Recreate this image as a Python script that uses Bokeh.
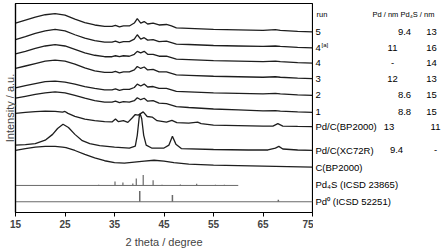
from bokeh.plotting import figure
from bokeh.layouts import row
from bokeh.models import Range1d, FixedTicker
from bokeh.core.properties import value
from bokeh.embed import file_html
from bokeh.resources import INLINE

# ---------------- data (stacked intensities, a.u.) ----------------
two_theta_runs = [15, 17, 19, 21, 23, 25, 27, 29, 31, 33, 34.5, 35.2, 36, 36.8, 38, 39, 39.6,
                  40.3, 41, 41.7, 42.8, 44, 45.5, 46.5, 47.5, 50, 55, 60, 65, 67.5, 68.5, 72, 75]
run_5 = [194, 197, 200, 202.5, 203.7, 202, 198, 194.5, 192, 190.5, 190.5, 191.5, 190, 191, 191, 194, 198.5,
         194, 195.5, 193, 194, 192, 192.5, 191, 189, 188.5, 187.5, 187, 186.5, 187.2, 186.5, 185.5, 185]
run_4a = [177, 180, 183.5, 186, 187.5, 186, 182, 178.5, 176, 174.5, 174.5, 175.5, 174, 175, 175, 177.5, 182,
          177.5, 179, 176.5, 177, 175, 175.5, 174, 172.5, 172, 171, 170.5, 170, 170.5, 170, 169, 168.5]
run_4 = [162.5, 165, 168, 170.5, 172, 170.5, 167, 163.5, 161, 159.5, 159.5, 160.5, 159.5, 160.5, 160, 162, 165,
         163.5, 165, 162, 162, 160, 160, 158.5, 157, 156.5, 155.5, 155, 154.5, 155, 154.5, 153.5, 153]
run_3 = [147.5, 150, 152.5, 155, 156, 155, 152, 148, 145, 143.5, 143.5, 144.5, 143, 144, 144, 146, 149.5,
         147.5, 149, 146, 146.5, 144, 144, 142.5, 141, 140.5, 139.5, 139, 138.5, 139, 138.5, 137.5, 137]
run_2 = [127.5, 130, 132, 134, 134.5, 133.5, 131.5, 129, 127, 125.5, 125.5, 126.5, 125, 126, 126, 128, 131.5,
         129.5, 131.5, 128.5, 129, 127, 127, 125.5, 124, 123.5, 122.5, 122, 121.5, 122, 121.5, 120.5, 120]
run_1 = [117, 119, 121, 122.5, 123.5, 122.5, 120, 117, 114.5, 113, 113, 114, 112.5, 113.5, 113, 114.5, 117.5,
         115.5, 117, 114, 114.5, 112, 111.5, 110, 108.5, 107.5, 106, 105, 104, 104.3, 103.7, 103, 102.5]

two_theta_bp = [15, 17, 19, 21, 23, 24.5, 25, 25.6, 27, 29, 31, 33, 34.5, 35.2, 35.8, 36.8, 37.7, 38.6, 39.2,
                39.8, 40.8, 41.6, 42.6, 43.6, 45.5, 46.6, 47.6, 50, 51.8, 52.5, 55, 60, 65, 67, 68, 69, 72, 75]
pdc_bp2000 = [101.5, 102.5, 103.2, 103.7, 103.5, 102.7, 103.5, 101.5, 98.5, 95.5, 94, 93, 92.7, 95.7, 93, 94,
              92.3, 97, 100.3, 99.7, 103, 98.3, 97.7, 94, 92.5, 94.3, 92, 91.5, 92.5, 91, 89.5, 89, 88.5, 88.5,
              91, 88.5, 88.2, 88]

two_theta_xc = [15, 17, 19, 21, 22.5, 23.5, 24.6, 25.7, 27, 28.5, 30, 32, 35, 38, 39.2, 39.6, 40.0, 40.2, 40.5,
                40.9, 41.4, 42.5, 45, 46.0, 46.7, 47.4, 48.5, 55, 62, 66, 67.5, 68.2, 69, 72, 75]
pdc_xc72r = [69, 69.5, 70.5, 74, 80, 86, 90.3, 87, 80, 73.5, 70.5, 68.5, 67, 66, 68, 79, 98, 101, 96,
             79, 69, 66, 66, 69, 78, 70, 65.5, 64.5, 64, 64, 66, 67.7, 65, 64, 63.7]

two_theta_c = [15, 17, 19, 21, 23, 24.5, 25.2, 27, 29, 31, 33, 35, 37, 39, 41, 43, 45, 47, 50, 55, 60, 65, 70, 75]
c_bp2000 = [63.7, 65.5, 67, 67.7, 67.7, 67, 66.5, 63.5, 59.5, 56, 53, 51, 50.5, 51.5, 52.5, 53.5, 52.5, 51,
            49.5, 48.5, 48, 47.5, 47, 46.5]

pd4s_pos = [31.8, 35.1, 36.7, 38.7, 39.4, 40.8, 42.8, 44.6, 48.3, 51.6, 55.4, 57.2]
pd4s_int = [0.7, 4, 3, 2, 7, 10.7, 5.3, 0.6, 1, 1.7, 0.6, 0.6]
pd4s_base = 27.7
pd4s_range = [15, 60]

pd_pos = [40.1, 46.7, 68.1]
pd_int = [11, 7, 2]
pd_base = 11
pd_range = [15, 75]

x_ticks = [15, 25, 35, 45, 55, 65, 75]

curve_labels = ["5", "4", "4", "3", "2", "1", "Pd/C(BP2000)", "Pd/C(XC72R)", "C(BP2000)"]
pd_size = ["9.4", "11", "-", "12", "8.6", "8.8", "13", "9.4"]
pd4s_size = ["13", "16", "14", "13", "15", "15", "11", "-"]

# ---------------- main plot ----------------
FONT = "Liberation Sans"
yr = Range1d(0, 214)
p = figure(width=313, height=250, output_backend="svg", toolbar_location=None,
           x_range=Range1d(15, 75), y_range=yr,
           min_border_left=14, min_border_right=1, min_border_top=3, min_border_bottom=33)
p.grid.visible = False
p.outline_line_color = "black"
p.outline_line_width = 1.2

p.xaxis.ticker = FixedTicker(ticks=x_ticks)
p.xaxis.minor_tick_line_color = None
p.xaxis.major_tick_in = 0
p.xaxis.major_tick_out = 4
p.xaxis.major_label_text_font = FONT
p.xaxis.major_label_text_font_style = "bold"
p.xaxis.major_label_text_font_size = "10px"
p.xaxis.major_label_standoff = 3
p.xaxis.axis_label = "2 theta / degree"
p.xaxis.axis_label_text_font = FONT
p.xaxis.axis_label_text_font_style = "normal"
p.xaxis.axis_label_text_font_size = "11px"
p.xaxis.axis_label_standoff = 5
p.xaxis.axis_line_color = "black"
p.xaxis.axis_line_width = 1.2

p.yaxis.ticker = FixedTicker(ticks=[])
p.yaxis.minor_tick_line_color = None
p.yaxis.major_tick_line_color = None
p.yaxis.axis_label = "Intensity / a.u."
p.yaxis.axis_label_text_font = FONT
p.yaxis.axis_label_text_font_style = "normal"
p.yaxis.axis_label_text_font_size = "11px"
p.yaxis.axis_label_standoff = 0
p.yaxis.axis_line_color = "black"
p.yaxis.axis_line_width = 1.2

curve_color = "#1e1e1e"
for ys in [run_5, run_4a, run_4, run_3, run_2, run_1]:
    p.line(two_theta_runs, ys, line_color=curve_color, line_width=1.3)
p.line(two_theta_bp, pdc_bp2000, line_color=curve_color, line_width=1.3)
p.line(two_theta_xc, pdc_xc72r, line_color=curve_color, line_width=1.3)
p.line(two_theta_c, c_bp2000, line_color=curve_color, line_width=1.3)

ref_color = "#6a6a6a"
p.line(pd4s_range, [pd4s_base, pd4s_base], line_color=ref_color, line_width=1)
p.segment(x0=pd4s_pos, y0=[pd4s_base] * len(pd4s_pos), x1=pd4s_pos,
          y1=[pd4s_base + h for h in pd4s_int], line_color=ref_color, line_width=1.2)
p.line(pd_range, [pd_base, pd_base], line_color=ref_color, line_width=1)
p.segment(x0=pd_pos, y0=[pd_base] * len(pd_pos), x1=pd_pos,
          y1=[pd_base + h for h in pd_int], line_color=ref_color, line_width=1.5)

# ---------------- right-hand label panel (pixel x units) ----------------
q = figure(width=131, height=250, output_backend="svg", toolbar_location=None,
           x_range=Range1d(0, 131), y_range=yr,
           min_border_left=0, min_border_right=0, min_border_top=3, min_border_bottom=33)
q.axis.visible = False
q.grid.visible = False
q.outline_line_color = None


def lab(x, y, text, size="9.5px", align="left", yoff=0):
    q.text(x=[x], y=[y], text=[text], text_font=value(FONT), text_font_size=size,
           text_align=align, text_baseline="middle", text_color="black", y_offset=yoff)


ends = [c[-1] for c in [run_5, run_4a, run_4, run_3, run_2, run_1, pdc_bp2000, pdc_xc72r, c_bp2000]]
LX = 2
for i, (t, y) in enumerate(zip(curve_labels, ends)):
    lab(LX, y, t)
    if i == 1:
        lab(LX + 6, y, "[a]", size="6px", yoff=-3)

lab(LX, pd4s_base + 1, "Pd\u2084S (ICSD 23865)")
lab(LX, pd_base, "Pd\u2070 (ICSD 52251)")

header_y = ends[0] + 18
lab(LX + 1, header_y, "run", size="7.5px")
lab(59, header_y, "Pd / nm", size="7.5px")
lab(87, header_y, "Pd\u2084S / nm", size="7.5px")

for i in range(8):
    y = ends[i]
    s1, s2 = pd_size[i], pd4s_size[i]
    if i < 6:
        x1 = 91 if "." in s1 else 79
        x2 = 118
    else:
        x1 = 75.5 if i == 6 else 83
        x2 = 122
    lab(x1, y, s1, align="center")
    lab(x2, y, s2, align="center")

layout = row(p, q, spacing=0)
open("out.html", "w").write(file_html(layout, INLINE))
